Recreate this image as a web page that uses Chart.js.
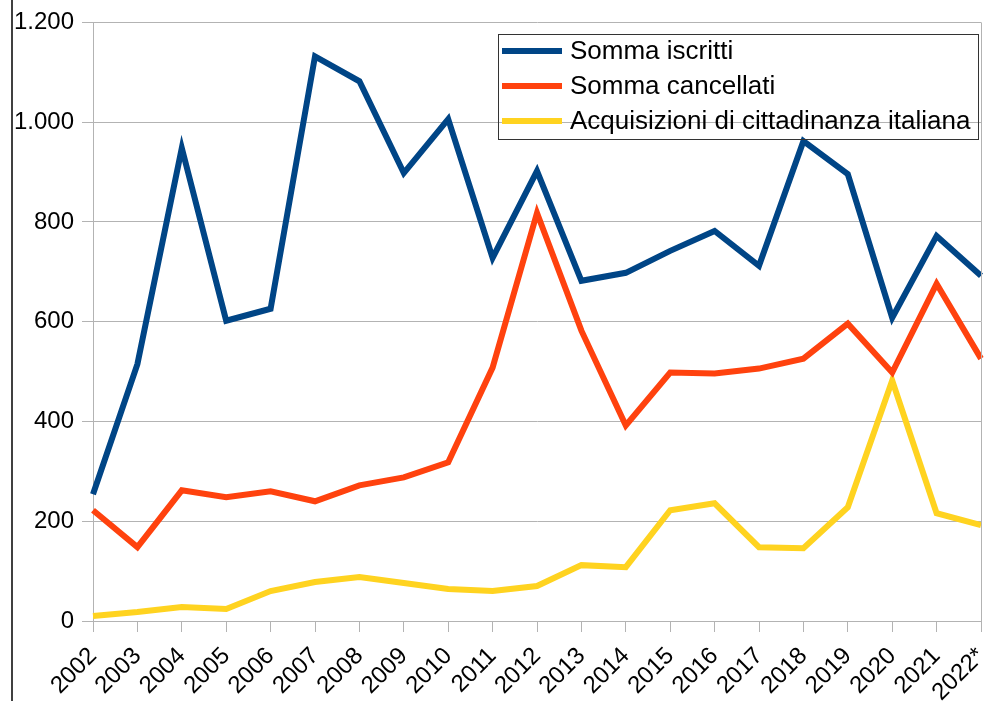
<!DOCTYPE html>
<html>
<head>
<meta charset="utf-8">
<script src="https://cdn.jsdelivr.net/npm/chart.js@4"></script>
<style>
  html, body { margin: 0; padding: 0; background: #fff; }
  #wrap { width: 984px; height: 701px; position: relative; }
</style>
</head>
<body>
<div id="wrap"><canvas id="chart"></canvas></div>
<script>
// dati
const anni = ['2002', '2003', '2004', '2005', '2006', '2007', '2008', '2009', '2010', '2011',
  '2012', '2013', '2014', '2015', '2016', '2017', '2018', '2019', '2020', '2021', '2022*'];
const sommaIscritti = [254, 515, 948, 602, 626, 1132, 1082, 898, 1006, 728,
  902, 682, 698, 742, 782, 712, 962, 896, 608, 772, 692];
const sommaCancellati = [222, 148, 262, 248, 260, 240, 272, 288, 318, 508,
  818, 582, 392, 498, 496, 506, 526, 596, 498, 676, 526];
const acquisizioni = [10, 18, 28, 24, 60, 78, 88, 76, 64, 60,
  70, 112, 108, 222, 236, 148, 146, 228, 482, 216, 192];
const etichetteY = ['0', '200', '400', '600', '800', '1.000', '1.200'];

const FONT = '"Liberation Sans", Arial, sans-serif';

// legenda disegnata a mano dentro il grafico, bordo e linea a sinistra
const extraPlugin = {
    id: 'extra',
    afterDatasetsDraw(chart) {
        const ctx = chart.ctx;
        const area = chart.chartArea;
        ctx.save();
        // bordo destro dell'area
        ctx.strokeStyle = '#b3b3b3';
        ctx.lineWidth = 1;
        ctx.beginPath();
        ctx.moveTo(area.right + 0.5, area.top);
        ctx.lineTo(area.right + 0.5, area.bottom);
        ctx.stroke();
        // linea nera a sinistra
        ctx.strokeStyle = '#000';
        ctx.lineWidth = 1.5;
        ctx.beginPath();
        ctx.moveTo(12, 0);
        ctx.lineTo(12, chart.height);
        ctx.stroke();
        // legenda
        const x0 = 498, y0 = 34, w = 480, h = 105;
        ctx.strokeStyle = '#333';
        ctx.lineWidth = 1;
        ctx.strokeRect(x0 + 0.5, y0 + 0.5, w, h);
        ctx.font = '26px ' + FONT;
        ctx.textBaseline = 'middle';
        ctx.fillStyle = '#000';
        chart.data.datasets.forEach((ds, i) => {
            const y = y0 + 17 + i * 35;
            ctx.strokeStyle = ds.borderColor;
            ctx.lineWidth = 6;
            ctx.beginPath();
            ctx.moveTo(x0 + 4, y);
            ctx.lineTo(x0 + 64, y);
            ctx.stroke();
            ctx.fillText(ds.label, x0 + 72, y + 1);
        });
        ctx.restore();
    }
};

new Chart(document.getElementById('chart'), {
    type: 'line',
    data: {
        labels: anni,
        datasets: [{
            label: 'Somma iscritti',
            data: sommaIscritti,
            borderColor: '#004586',
            borderWidth: 6,
            pointRadius: 0,
            tension: 0
        }, {
            label: 'Somma cancellati',
            data: sommaCancellati,
            borderColor: '#ff420e',
            borderWidth: 6,
            pointRadius: 0,
            tension: 0
        }, {
            label: 'Acquisizioni di cittadinanza italiana',
            data: acquisizioni,
            borderColor: '#ffd320',
            borderWidth: 6,
            pointRadius: 0,
            tension: 0
        }]
    },
    options: {
        responsive: true,
        maintainAspectRatio: false,
        animation: false,
        layout: {
            padding: { top: 22, right: 3, left: 0, bottom: 0 }
        },
        scales: {
            x: {
                offset: false,
                grid: {
                    drawOnChartArea: false,
                    drawTicks: true,
                    tickLength: 11,
                    color: '#b3b3b3'
                },
                border: { color: '#b3b3b3' },
                ticks: {
                    minRotation: 45,
                    maxRotation: 45,
                    autoSkip: false,
                    color: '#000',
                    padding: 10,
                    font: { family: FONT, size: 24 }
                },
                afterFit(scale) {
                    scale.height = 80;
                    scale.paddingRight = 0;
                    scale.paddingLeft = 0;
                }
            },
            y: {
                min: 0,
                max: 1200,
                grid: {
                    color: '#b3b3b3',
                    tickLength: 11
                },
                border: { color: '#b3b3b3' },
                ticks: {
                    stepSize: 200,
                    color: '#000',
                    padding: 8,
                    font: { family: FONT, size: 24 },
                    callback: value => etichetteY[value / 200]
                },
                afterFit(scale) { scale.width = 93; }
            }
        },
        plugins: {
            legend: { display: false },
            tooltip: { enabled: false }
        }
    },
    plugins: [extraPlugin]
});
</script>
</body>
</html>
